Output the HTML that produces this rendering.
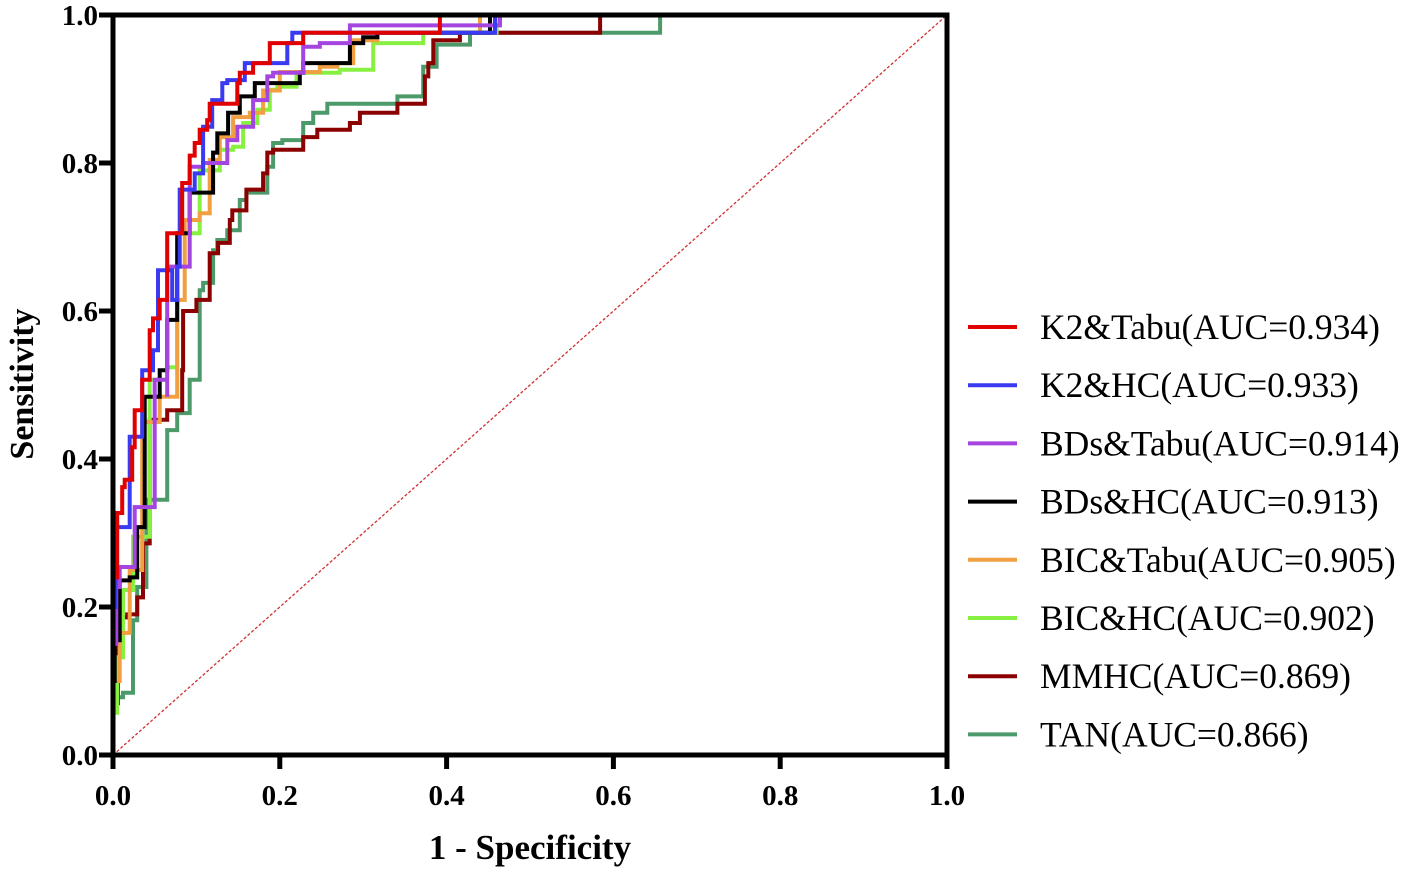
<!DOCTYPE html>
<html><head><meta charset="utf-8"><style>
html,body{margin:0;padding:0;background:#fff}
svg{display:block}
text{font-family:"Liberation Serif",serif}
</style></head><body>
<svg id="chart" width="1405" height="871" viewBox="0 0 1405 871" xmlns="http://www.w3.org/2000/svg">
<g id="plot"></g>
<g id="axes"></g>
<g id="legend"></g>
</svg>
<script>
const xTicks=[0,0.2,0.4,0.6,0.8,1.0];
const yTicks=[0,0.2,0.4,0.6,0.8,1.0];
const seriesNames=["K2&Tabu(AUC=0.934)","K2&HC(AUC=0.933)","BDs&Tabu(AUC=0.914)","BDs&HC(AUC=0.913)","BIC&Tabu(AUC=0.905)","BIC&HC(AUC=0.902)","MMHC(AUC=0.869)","TAN(AUC=0.866)"];
const seriesColors=["#e00000","#3a3af0","#a545e0","#000000","#f0a040","#88f040","#8b0000","#4c9a6a"];
const k2tabu=[[0,0],[0,.146],[.005,.24],[.011,.327],[.014,.362],[.023,.372],[.026,.416],[.035,.466],[.044,.507],[.048,.574],[.056,.59],[.065,.615],[.083,.705],[.092,.773],[.098,.81],[.104,.827],[.113,.845],[.116,.858],[.122,.88],[.149,.88],[.152,.908],[.168,.922],[.188,.935],[.188,.949],[.228,.962],[.284,.976],[.376,.976],[.392,1],[1,1]];
const k2hc=[[0,0],[.003,.2],[.014,.308],[.02,.308],[.02,.36],[.035,.43],[.048,.52],[.054,.547],[.071,.655],[.077,.615],[.08,.66],[.098,.764],[.108,.786],[.119,.849],[.131,.885],[.137,.908],[.158,.912],[.162,.935],[.209,.935],[.215,.962],[.23,.976],[.28,.976],[.44,.976],[.458,1],[1,1]];
const bdstabu=[[0,0],[.004,.15],[.008,.227],[.018,.254],[.026,.254],[.05,.335],[.065,.507],[.065,.484],[.092,.66],[.108,.795],[.137,.8],[.149,.831],[.168,.849],[.185,.885],[.192,.917],[.228,.922],[.248,.957],[.284,.962],[.353,.986],[.45,.986],[.464,1],[1,1]];
const bdshc=[[0,0],[.002,.1],[.008,.155],[.02,.236],[.029,.24],[.038,.308],[.056,.484],[.065,.52],[.077,.588],[.092,.705],[.102,.76],[.12,.76],[.125,.814],[.138,.84],[.152,.868],[.17,.89],[.176,.908],[.224,.908],[.228,.922],[.245,.935],[.284,.935],[.3,.962],[.317,.97],[.44,.976],[.452,1],[1,1]];
const bictabu=[[0,0],[.008,.1],[.02,.165],[.035,.25],[.056,.45],[.077,.484],[.086,.615],[.104,.723],[.116,.732],[.128,.804],[.144,.835],[.164,.862],[.18,.868],[.2,.898],[.248,.923],[.269,.93],[.288,.935],[.317,.966],[.336,.976],[.43,.976],[.44,1],[1,1]];
const bichc=[[0,0],[.005,.057],[.012,.132],[.024,.223],[.044,.295],[.065,.507],[.077,.524],[.104,.705],[.128,.79],[.144,.818],[.156,.822],[.173,.854],[.188,.872],[.197,.899],[.22,.903],[.272,.922],[.312,.926],[.336,.962],[.372,.962],[.38,.976],[.44,.976],[.46,1],[1,1]];
const mmhc=[[0,0],[.006,.07],[.017,.186],[.029,.19],[.036,.213],[.044,.286],[.065,.453],[.083,.466],[.084,.52],[.1,.6],[.116,.615],[.126,.678],[.14,.692],[.143,.723],[.16,.736],[.18,.764],[.185,.786],[.192,.814],[.228,.818],[.245,.835],[.284,.845],[.296,.854],[.341,.868],[.374,.88],[.378,.917],[.384,.935],[.416,.966],[.5,.976],[.584,1],[1,1]];
const tan=[[0,0],[.012,.078],[.024,.084],[.024,.16],[.029,.182],[.04,.227],[.065,.345],[.065,.412],[.077,.439],[.092,.462],[.104,.507],[.104,.57],[.108,.628],[.12,.638],[.125,.682],[.137,.696],[.152,.709],[.16,.75],[.185,.76],[.192,.795],[.203,.827],[.228,.831],[.24,.854],[.257,.868],[.296,.88],[.341,.88],[.372,.89],[.388,.93],[.428,.96],[.476,.976],[.64,.976],[.656,1],[1,1]];
const seriesData=[k2tabu,k2hc,bdstabu,bdshc,bictabu,bichc,mmhc,tan];

const X0=113,X1=947,Y0=755,Y1=15;
const sx=v=>X0+v*(X1-X0);
const sy=v=>Y0-v*(Y0-Y1);
const NS="http://www.w3.org/2000/svg";
function mk(tag,attrs,parent){const e=document.createElementNS(NS,tag);for(const k in attrs)e.setAttribute(k,attrs[k]);parent.appendChild(e);return e;}
const plot=document.getElementById('plot'),axes=document.getElementById('axes'),legend=document.getElementById('legend');

const diag=mk('line',{x1:sx(0),y1:sy(0),x2:sx(1),y2:sy(1),stroke:'#d03030','stroke-width':1.3,'stroke-dasharray':'3,2'},plot);



for(let i=seriesData.length-1;i>=0;i--){
  const d=seriesData[i];
  const pts=[];
  for(let j=0;j<d.length;j++){
    if(j>0){
      const useX=(d[j][1]>=1&&d[j-1][1]<1)?d[j][0]:d[j-1][0];
      pts.push(sx(useX).toFixed(1)+','+sy(d[j][1]).toFixed(1));
      if(useX===d[j][0]){pts[pts.length-1]=sx(d[j][0]).toFixed(1)+','+sy(d[j-1][1]).toFixed(1);}
    }
    pts.push(sx(d[j][0]).toFixed(1)+','+sy(d[j][1]).toFixed(1));
  }
  const pl=mk('polyline',{points:pts.join(' '),fill:'none',stroke:seriesColors[i],'stroke-width':4,'stroke-linejoin':'miter'},plot);
  
  
}

const frame=mk('rect',{x:X0,y:Y1,width:X1-X0,height:Y0-Y1,fill:'none',stroke:'#000','stroke-width':5},axes);



xTicks.forEach(t=>{
  const l=mk('line',{x1:sx(t),y1:Y0,x2:sx(t),y2:Y0+14,stroke:'#000','stroke-width':5},axes);
  
  
  const tx=mk('text',{x:sx(t),y:Y0+50,'text-anchor':'middle','font-size':29,'font-weight':'bold'},axes);
  tx.textContent=t.toFixed(1);
  
  
});
yTicks.forEach(t=>{
  const l=mk('line',{x1:X0-14,y1:sy(t),x2:X0,y2:sy(t),stroke:'#000','stroke-width':5},axes);
  
  
  const tx=mk('text',{x:X0-15,y:sy(t)+10,'text-anchor':'end','font-size':29,'font-weight':'bold'},axes);
  tx.textContent=t.toFixed(1);
  
  
});
const xt=mk('text',{x:530,y:859,'text-anchor':'middle','font-size':35,'font-weight':'bold'},axes);
xt.textContent='1 - Specificity';


const yt=mk('text',{x:0,y:0,'text-anchor':'middle','font-size':34,'font-weight':'bold',transform:'translate(33,384) rotate(-90)'},axes);
yt.textContent='Sensitivity';



seriesNames.forEach((n,i)=>{
  const y=327+i*58.2;
  const g=mk('g',{},legend);
  
  
  mk('line',{x1:968,y1:y,x2:1017,y2:y,stroke:seriesColors[i],'stroke-width':4},g);
  const tx=mk('text',{x:1040,y:y+12,'font-size':35.5},g);
  tx.textContent=n;
});
</script>
</body></html>
